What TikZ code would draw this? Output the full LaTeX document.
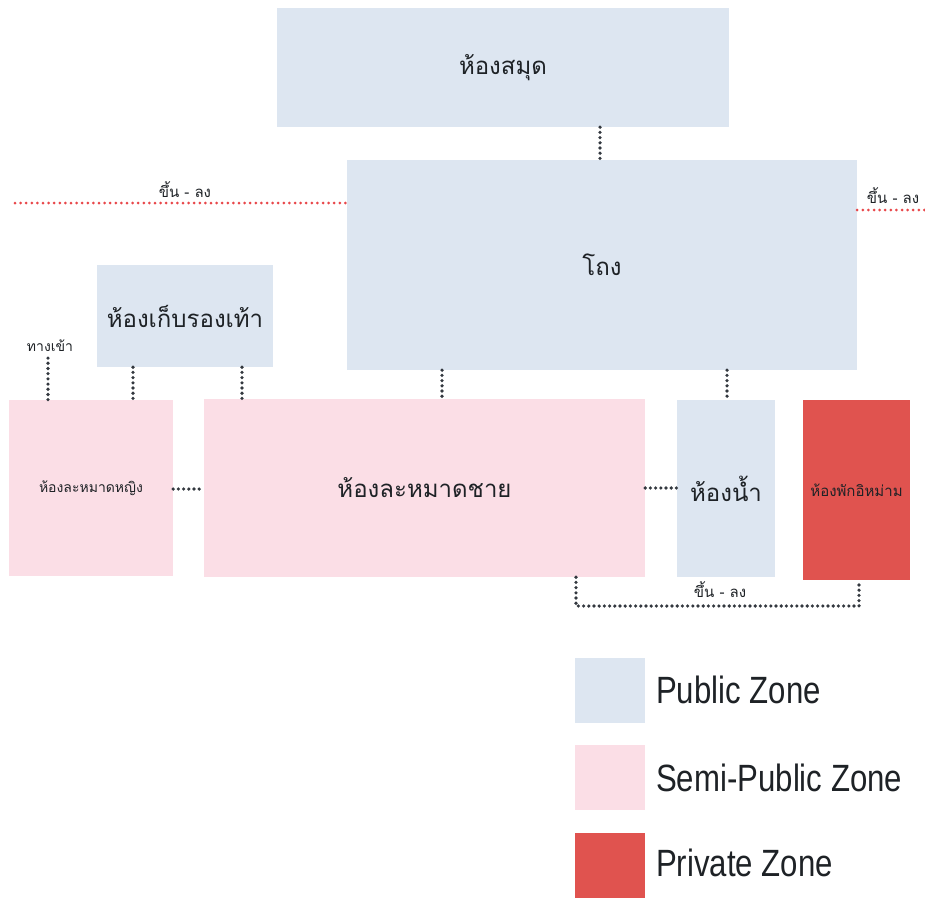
\documentclass[tikz,border=0pt]{standalone}
\usepackage{fontspec}
\setmainfont{Liberation Sans}
\newfontfamily\thaifont[Script=Thai]{Loma}
\newfontfamily\legendfont[FakeStretch=0.82]{Liberation Sans}
\definecolor{pubc}{HTML}{DDE6F1}
\definecolor{semic}{HTML}{FBDEE6}
\definecolor{privc}{HTML}{E0534F}
\definecolor{dotc}{HTML}{33383F}
\definecolor{reddot}{HTML}{E8474A}
\definecolor{txtc}{HTML}{1E2226}
\begin{document}
\begin{tikzpicture}[x=1pt,y=-1pt,
  room/.style={draw=none, inner sep=0pt, text=txtc, font=\thaifont\fontsize{24}{28}\selectfont},
  smallroom/.style={room, font=\thaifont\fontsize{14}{17}\selectfont},
  lbl/.style={inner sep=0pt, text=txtc, font=\thaifont\fontsize{15}{18}\selectfont},
  link/.style={dotc, line width=3.6pt, dash pattern=on 0pt off 5.2pt, line cap=round},
  redlink/.style={reddot, line width=3pt, dash pattern=on 0pt off 5.6pt, line cap=round},
  swatch/.style={draw=none, inner sep=0pt, minimum width=70, minimum height=65},
  legtext/.style={anchor=west, inner sep=0pt, text=txtc, font=\legendfont\fontsize{38}{44}\selectfont}
]
\useasboundingbox (0,0) rectangle (925,897);

% rooms
\node[room, fill=pubc, minimum width=452, minimum height=119] (lib) at (503,67.5) {ห้องสมุด};
\node[room, fill=pubc, minimum width=510, minimum height=210] (lobby) at (602,265) {โถง};
\node[room, fill=pubc, minimum width=176, minimum height=102] (shoe) at (185,316) {ห้องเก็บรองเท้า};
\node[smallroom, fill=semic, minimum width=164, minimum height=176] (women) at (91,488) {ห้องละหมาดหญิง};
\node[room, fill=semic, minimum width=441, minimum height=178] (men) at (424.5,488) {ห้องละหมาดชาย};
\node[room, fill=pubc, minimum width=98, minimum height=177] (bath) at (726,488.5) {ห้องน้ำ};
\node[smallroom, fill=privc, minimum width=107, minimum height=180, font=\thaifont\fontsize{15}{18}\selectfont] (imam) at (856.5,490) {ห้องพักอิหม่าม};

% labels
\node[lbl] (updownL) at (185,190) {ขึ้น - ลง};
\node[lbl] (updownR) at (893,196) {ขึ้น - ลง};
\node[lbl] (updownB) at (720,590) {ขึ้น - ลง};
\node[lbl, font=\thaifont\fontsize{14}{16}\selectfont] (entry) at (50,346) {ทางเข้า};

% red stair lines
\coordinate (redL) at (15,203);
\coordinate (redR) at (925,210);
\draw[redlink] (redL) -- (redL -| lobby.west);
\draw[redlink] (redR -| lobby.east) -- (redR);

% connectors
\draw[link] (lib.south -| 600,0) -- (lobby.north -| 600,0);
\draw[link] (entry.south -| 48,0) ++(0,6) -- (women.north -| 48,0);
\draw[link] (shoe.south -| 133,0) -- (women.north -| 133,0);
\draw[link] (shoe.south -| 242,0) -- (men.north -| 242,0);
\draw[link] (lobby.south -| 442,0) -- (men.north -| 442,0);
\draw[link] (lobby.south -| 727,0) -- (bath.north -| 727,0);
\draw[link] (women.east |- 0,489) -- (men.west |- 0,489);
\draw[link] (men.east |- 0,488) -- (bath.west |- 0,488);
\coordinate (bl) at (576,606);
\coordinate (br) at (859,606);
\draw[link] (men.south -| bl) -- (bl) -- (br) -- (imam.south -| br);

% legend
\node[swatch, fill=pubc] (lgpub) at (610,690) {};
\node[swatch, fill=semic] (lgsemi) at (610,777) {};
\node[swatch, fill=privc] (lgpriv) at (610,865) {};
\node[legtext] (tpub) at (656,690) {Public Zone};
\node[legtext] (tsemi) at (656,778) {Semi-Public Zone};
\node[legtext] (tpriv) at (656,863) {Private Zone};
\end{tikzpicture}
\end{document}
